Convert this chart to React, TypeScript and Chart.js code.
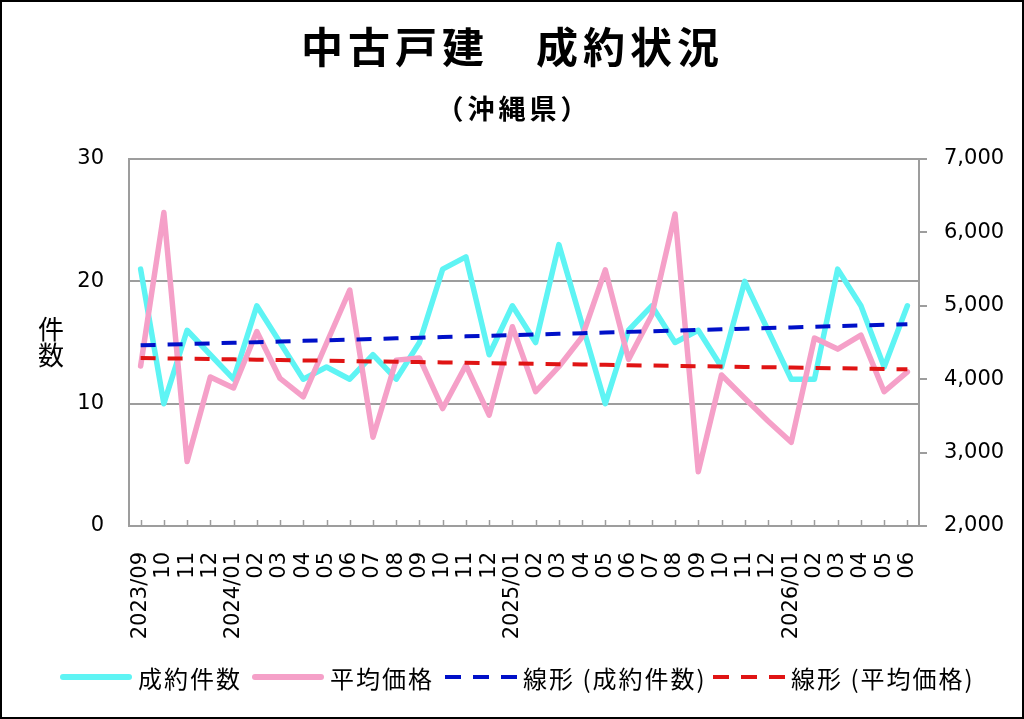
import React, { useEffect, useRef } from 'react';
import { Chart, ChartConfiguration, Plugin, registerables } from 'chart.js';

Chart.register(...registerables);

const months = [
  '2023/09', '10', '11', '12',
  '2024/01', '02', '03', '04', '05', '06', '07', '08', '09', '10', '11', '12',
  '2025/01', '02', '03', '04', '05', '06', '07', '08', '09', '10', '11', '12',
  '2026/01', '02', '03', '04', '05', '06'
];

// 成約件数 (left axis)
const contractCounts = [
  21, 10, 16, 14,
  12, 18, 15, 12, 13, 12, 14, 12, 15, 21, 22, 14,
  18, 15, 23, 16.5, 10, 16, 18, 15, 16, 13, 20, 16,
  12, 12, 21, 18, 13, 18
];

// 平均価格 (right axis, 万円)
const averagePrices = [
  4180, 6270, 2880, 4030,
  3880, 4650, 4010, 3760, 4490, 5215, 3210, 4260, 4290, 3600, 4190, 3510,
  4715, 3830, 4170, 4575, 5490, 4270, 4875, 6250, 2740, 4057, 3740, 3430,
  3140, 4560, 4410, 4600, 3830, 4100
];

const countAxis = { min: 0, max: 30, step: 10 };
const priceAxis = { min: 2000, max: 7000, step: 1000 };

const CYAN = '#5ef4f4';
const PINK = '#f5a0c8';
const BLUE = '#0010c8';
const RED = '#e01414';
const GRID = '#9d9d9d';
const TICK_FONT = { family: '"DejaVu Sans"', size: 21 };
const JP_FONT = '"Noto Sans CJK JP", "Noto Sans", sans-serif';

// least squares trend, same as the spreadsheet's linear trendline
function linearTrend(values: number[]): number[] {
  const n = values.length;
  const xm = (n - 1) / 2;
  const ym = values.reduce((s, v) => s + v, 0) / n;
  let num = 0;
  let den = 0;
  values.forEach((v, i) => {
    num += (i - xm) * (v - ym);
    den += (i - xm) * (i - xm);
  });
  const slope = num / den;
  return values.map((_, i) => ym + slope * (i - xm));
}

// small tick marks pointing up into the plot
const innerTicks: Plugin = {
  id: 'innerTicks',
  beforeDatasetsDraw(chart) {
    const x = chart.scales.x;
    const { ctx, chartArea } = chart;
    ctx.save();
    ctx.strokeStyle = GRID;
    ctx.lineWidth = 1.5;
    x.ticks.forEach((_, i) => {
      const px = Math.round(x.getPixelForTick(i)) + 0.5;
      ctx.beginPath();
      ctx.moveTo(px, chartArea.bottom);
      ctx.lineTo(px, chartArea.bottom - 6);
      ctx.stroke();
    });
    ctx.restore();
  }
};

const legendItems = [
  { label: '成約件数', color: CYAN, dashed: false, left: 60 },
  { label: '平均価格', color: PINK, dashed: false, left: 252 },
  { label: '線形 (成約件数)', color: BLUE, dashed: true, left: 445 },
  { label: '線形 (平均価格)', color: RED, dashed: true, left: 713 }
];

const LegendSample: React.FC<{ color: string; dashed: boolean }> = ({ color, dashed }) => {
  if (!dashed) {
    return <div style={{ width: 72, height: 6, borderRadius: 3, background: color }} />;
  }
  return (
    <div style={{ width: 72, display: 'flex', justifyContent: 'space-between' }}>
      {[0, 1, 2].map(i => (
        <div key={i} style={{ width: 16, height: 4, background: color }} />
      ))}
    </div>
  );
};

const App: React.FC = () => {
  const chartRef = useRef<HTMLCanvasElement>(null);
  const chartInstanceRef = useRef<Chart | null>(null);

  useEffect(() => {
    document.body.style.margin = '0';
    document.body.style.overflow = 'hidden';
    if (!chartRef.current) return;
    const ctx = chartRef.current.getContext('2d');
    if (!ctx) return;

    if (chartInstanceRef.current) {
      chartInstanceRef.current.destroy();
    }

    const config: ChartConfiguration<'line'> = {
      type: 'line',
      data: {
        labels: months,
        datasets: [
          {
            label: '成約件数',
            data: contractCounts,
            yAxisID: 'y',
            borderColor: CYAN,
            borderWidth: 5.5,
            pointRadius: 0,
            borderJoinStyle: 'round',
            borderCapStyle: 'round',
            order: 3
          },
          {
            label: '平均価格',
            data: averagePrices,
            yAxisID: 'y1',
            borderColor: PINK,
            borderWidth: 5.5,
            pointRadius: 0,
            borderJoinStyle: 'round',
            borderCapStyle: 'round',
            order: 2
          },
          {
            label: '線形 (成約件数)',
            data: linearTrend(contractCounts),
            yAxisID: 'y',
            borderColor: BLUE,
            borderWidth: 4,
            borderDash: [15, 12],
            pointRadius: 0,
            order: 1
          },
          {
            label: '線形 (平均価格)',
            data: linearTrend(averagePrices),
            yAxisID: 'y1',
            borderColor: RED,
            borderWidth: 4,
            borderDash: [15, 12],
            pointRadius: 0,
            order: 0
          }
        ]
      },
      options: {
        responsive: false,
        animation: false,
        layout: { padding: { top: 159, left: 0, right: 0, bottom: 0 } },
        plugins: {
          legend: { display: false },
          title: { display: false },
          tooltip: { enabled: false }
        },
        scales: {
          x: {
            offset: true,
            grid: { display: false },
            border: { display: true, color: GRID, width: 2 },
            ticks: {
              autoSkip: false,
              minRotation: 90,
              maxRotation: 90,
              padding: 18,
              color: '#000',
              font: TICK_FONT
            },
            afterFit: (scale) => {
              scale.height = 193;
            }
          },
          y: {
            position: 'left',
            min: countAxis.min,
            max: countAxis.max,
            grid: { color: GRID, lineWidth: 2, drawTicks: false },
            border: { display: true, color: GRID, width: 2 },
            ticks: {
              stepSize: countAxis.step,
              padding: 25,
              color: '#000',
              font: TICK_FONT
            },
            afterFit: (scale) => {
              scale.width = 129;
            }
          },
          y1: {
            position: 'right',
            min: priceAxis.min,
            max: priceAxis.max,
            grid: {
              drawOnChartArea: false,
              drawTicks: true,
              tickLength: 8,
              color: GRID,
              lineWidth: 2
            },
            border: { display: true, color: GRID, width: 2 },
            ticks: {
              stepSize: priceAxis.step,
              padding: 17,
              color: '#000',
              font: TICK_FONT,
              callback: (value) => Number(value).toLocaleString('en-US')
            },
            afterFit: (scale) => {
              scale.width = 105;
            }
          }
        }
      },
      plugins: [innerTicks]
    };

    chartInstanceRef.current = new Chart(ctx, config);

    return () => {
      if (chartInstanceRef.current) {
        chartInstanceRef.current.destroy();
        chartInstanceRef.current = null;
      }
    };
  }, []);

  return (
    <div style={{ position: 'relative', width: 1024, height: 719, background: '#fff', overflow: 'hidden' }}>
      <canvas ref={chartRef} width={1024} height={719} style={{ position: 'absolute', left: 0, top: 0 }} />
      <div
        style={{
          position: 'absolute', left: 0, right: 4, top: 24, textAlign: 'center',
          fontFamily: JP_FONT, fontWeight: 700, fontSize: 42, lineHeight: 1,
          letterSpacing: '5px', paddingLeft: 5, color: '#000'
        }}
      >
        中古戸建　成約状況
      </div>
      <div
        style={{
          position: 'absolute', left: 0, right: 0, top: 94, textAlign: 'center',
          fontFamily: JP_FONT, fontWeight: 700, fontSize: 27, lineHeight: 1,
          letterSpacing: '4px', paddingLeft: 4, fontFeatureSettings: '"halt"', color: '#000'
        }}
      >
        （沖縄県）
      </div>
      <div
        style={{
          position: 'absolute', left: 37, top: 315, width: 28, textAlign: 'center',
          fontFamily: JP_FONT, fontSize: 26, lineHeight: '26px', color: '#000'
        }}
      >
        件<br />数
      </div>
      {legendItems.map(item => (
        <div
          key={item.label}
          style={{
            position: 'absolute', left: item.left, top: 662, height: 30,
            display: 'flex', alignItems: 'center', gap: 6,
            fontFamily: JP_FONT, fontSize: 24, letterSpacing: '2px', color: '#000', whiteSpace: 'nowrap'
          }}
        >
          <LegendSample color={item.color} dashed={item.dashed} />
          <span>{item.label}</span>
        </div>
      ))}
      <div
        style={{
          position: 'absolute', left: 0, top: 0, width: 1024, height: 719,
          border: '2px solid #000', boxSizing: 'border-box', pointerEvents: 'none'
        }}
      />
    </div>
  );
};

export default App;
